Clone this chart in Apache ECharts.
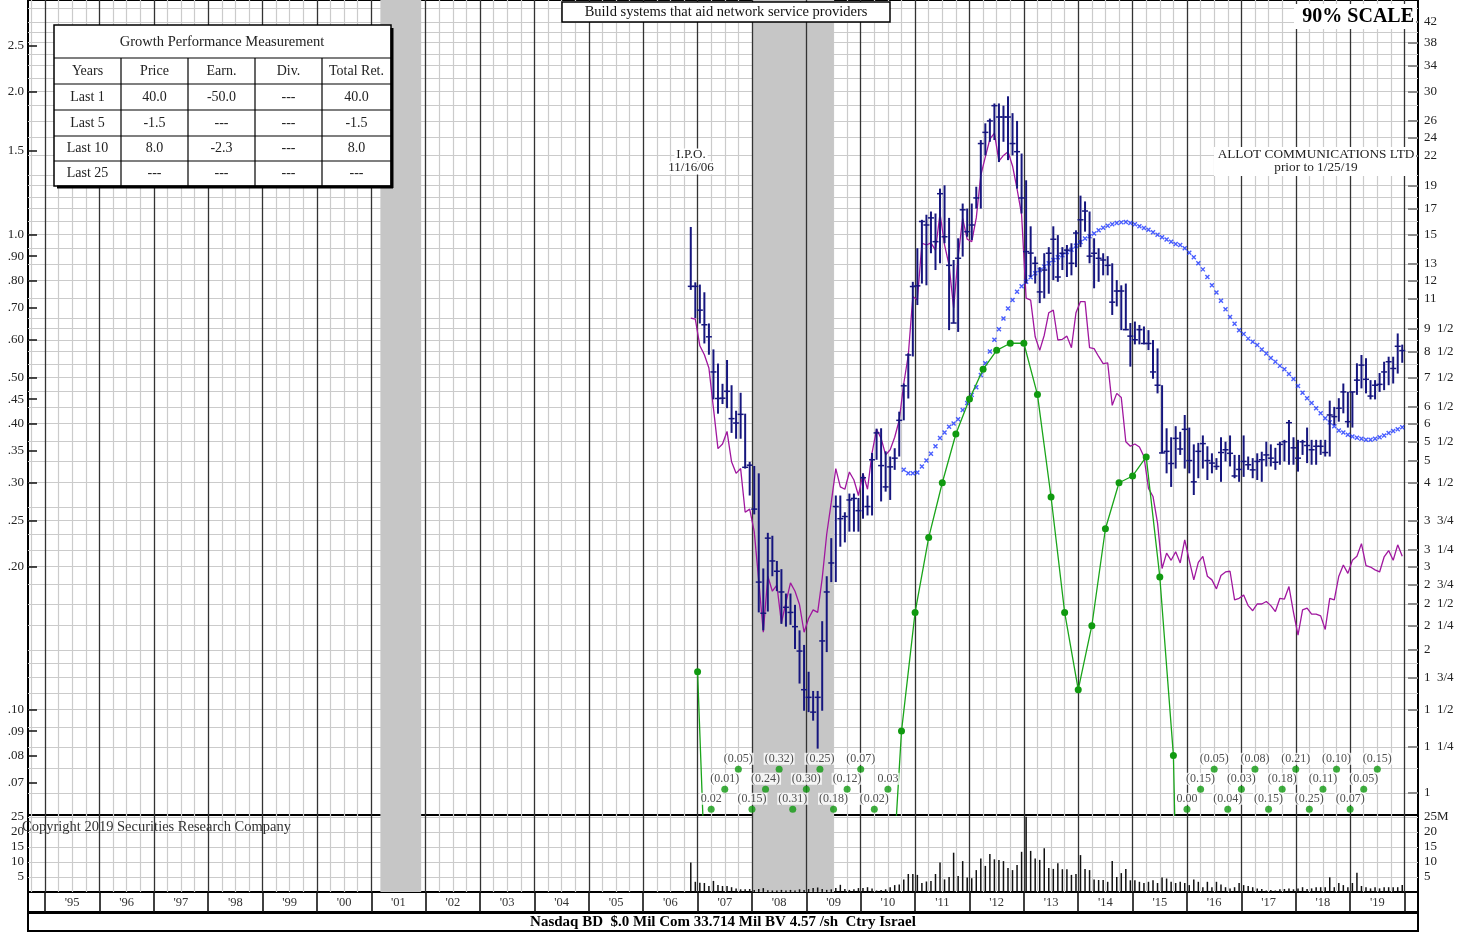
<!DOCTYPE html>
<html><head><meta charset="utf-8">
<script src="https://cdn.jsdelivr.net/npm/echarts@6/dist/echarts.min.js"></script>
<style>html,body{margin:0;padding:0;background:#fff}#c{width:1468px;height:934px}</style>
</head><body><div id="c"></div>
<script>
// ------------------------- DATA -------------------------
const firstMonth = [2006, 11]; // first monthly bar: Nov 2006 (IPO 11/16/06)
const priceHigh = [
 15.55,11.89,11.76,11.33,9.74,8.59,8.02,7.27,8.16,7.22,6.38,6.96,6.29,4.98,4.88,4.71,2.97,3.53,3.48,3.08,
 2.96,2.63,2.63,2.49,2.20,2.05,1.80,1.64,1.64,2.30,2.86,3.44,4.23,4.23,3.90,4.27,4.27,4.18,4.71,4.23,5.20,5.85,
 5.86,5.24,5.11,5.32,6.35,7.28,8.43,11.92,14.03,16.1,16.5,16.76,16.6,18.73,19.03,16.25,13.25,14.72,17.42,17.0,
 17.42,18.9,23.7,25.7,26.3,28.3,28.3,28.0,29.3,27.0,26.0,22.2,19.5,15.6,13.47,12.8,13.69,14.1,15.6,14.95,
 14.1,14.25,14.37,15.3,18.1,17.6,16.76,14.72,14.03,13.69,13.5,13.04,12.02,11.72,11.82,9.76,9.83,9.67,9.6,9.43,
 8.99,8.63,7.22,5.86,5.61,5.92,
 5.76,6.25,5.88,5.42,5.46,5.66,5.37,5.19,5.07,5.61,5.49,5.66,5.15,5.15,5.66,5.11,5.07,5.19,5.23,5.49,
 5.42,5.33,5.49,5.54,6.10,5.61,5.54,5.54,5.88,5.54,5.54,5.54,5.54,6.70,6.50,6.78,7.28,6.99,6.99,8.03,
 8.36,8.23,7.40,7.40,7.66,8.09,8.29,8.29,9.28,8.79];
const priceLow = [
 11.46,10.0,9.74,8.84,8.37,6.74,6.29,6.59,6.46,5.73,5.57,5.57,4.82,4.23,3.86,2.40,2.20,2.41,2.86,2.66,
 2.27,2.24,2.26,2.01,1.70,1.49,1.48,1.42,1.24,1.49,1.98,2.78,2.78,3.30,3.37,3.55,3.55,3.55,3.78,3.84,3.84,5.03,
 4.11,4.31,4.14,4.79,5.11,6.09,6.77,8.30,10.65,11.82,11.72,13.69,12.62,13.04,14.37,9.43,9.76,9.35,13.47,14.83,
 14.6,17.0,17.0,22.0,23.5,23.7,21.3,23.5,21.5,22.0,18.73,16.6,11.82,12.2,11.82,10.75,11.0,11.25,12.02,11.92,
 12.62,12.2,12.3,12.8,14.1,15.2,13.04,11.55,11.92,12.3,12.3,10.15,10.58,9.43,9.43,7.9,8.8,8.8,8.8,8.56,
 7.45,6.94,5.19,4.71,4.41,4.82,
 5.15,4.82,4.71,4.24,4.60,4.82,4.56,4.71,4.79,4.52,4.99,4.87,4.60,4.52,4.63,4.79,4.60,4.56,4.52,4.87,
 4.87,4.79,4.91,4.99,4.91,4.91,4.75,5.15,4.95,4.91,4.91,5.15,5.11,5.11,5.95,6.05,6.30,5.88,5.88,6.89,
 7.11,6.94,6.74,6.74,6.99,7.05,7.22,7.28,7.64,8.05];
const priceClose = [
 11.66,11.66,10.39,9.68,9.13,7.70,6.77,6.78,7.01,6.14,6.01,6.27,4.85,4.90,3.96,2.78,2.39,3.44,3.08,2.93,
 2.65,2.46,2.40,2.24,1.99,1.65,1.59,1.48,1.59,2.09,2.65,3.05,4.01,3.78,3.82,4.14,4.17,3.93,4.61,4.01,5.03,5.73,
 4.89,4.41,4.86,5.07,6.09,7.2,8.36,11.65,11.69,15.97,15.7,16.25,14.48,18.27,14.83,12.91,9.76,13.36,16.9,15.2,
 15.7,17.9,23.3,24.6,26.0,28.0,26.5,26.5,26.5,23.3,22.4,17.9,13.8,13.7,13.04,11.35,12.62,13.69,14.65,12.2,
 13.69,13.9,13.04,15.1,16.1,16.8,13.5,13.69,13.36,13.25,12.91,10.8,11.4,11.4,9.45,9.16,9.0,9.45,8.84,8.84,
 7.70,7.22,5.20,5.24,4.94,5.58,
 5.30,5.83,5.01,4.52,5.24,5.44,5.01,4.95,4.87,5.21,5.28,5.19,4.65,4.80,4.99,4.91,4.79,4.99,5.03,5.15,
 5.07,4.97,5.42,5.49,6.02,5.33,5.07,5.49,5.39,5.28,5.37,5.37,5.21,6.25,6.20,6.46,6.99,6.05,6.99,7.40,
 7.96,7.43,6.85,7.22,7.25,7.70,8.09,7.83,8.72,8.54];
const relStrength = [
 10.0,9.95,8.74,8.37,7.85,6.46,5.31,5.43,5.77,4.98,4.71,4.82,3.90,3.96,3.55,2.80,2.18,2.86,2.66,2.74,
 2.28,2.52,2.77,2.66,2.49,2.18,2.33,2.43,2.40,2.83,3.51,4.09,4.82,4.41,4.36,4.74,4.56,4.23,4.71,4.36,5.20,5.83,
 5.58,5.15,5.28,5.61,6.10,7.28,8.36,11.10,10.91,14.37,14.25,14.40,13.90,16.60,14.25,12.91,10.50,13.47,16.22,14.65,
 14.48,16.25,19.98,21.85,23.8,24.5,21.4,22.0,22.4,20.9,18.7,16.5,11.01,10.91,9.13,8.55,9.20,10.26,10.39,8.99,
 9.02,9.16,8.66,10.26,10.83,10.83,8.66,8.62,8.30,8.02,8.05,6.55,6.94,6.80,5.49,5.37,5.43,5.35,5.11,4.38,
 4.21,3.70,2.97,3.20,3.09,3.22,
 3.05,3.41,3.09,2.81,3.06,3.15,2.86,2.81,2.69,2.87,2.92,2.93,2.55,2.57,2.61,2.48,2.42,2.50,2.50,2.53,
 2.48,2.41,2.57,2.56,2.72,2.40,2.15,2.43,2.45,2.38,2.38,2.36,2.21,2.57,2.55,2.86,3.02,2.90,3.09,3.15,
 3.35,3.01,2.99,2.95,2.92,3.14,3.24,3.09,3.33,3.15];
const volumeM = [
 9.8,3.4,
 3.1,3.0,2.0,3.7,2.3,2.0,2.0,1.6,1.2,0.9,0.9,1.0,
 0.7,1.0,1.3,0.6,0.5,0.5,0.7,0.5,0.7,0.5,0.9,0.7,
 1.0,1.3,1.5,1.0,0.7,0.9,1.3,2.4,1.0,0.7,0.9,1.3,
 1.3,1.6,1.2,0.5,0.7,0.9,1.6,2.3,2.5,4.2,6.0,6.0,
 5.7,3.0,3.5,3.7,6.0,9.8,4.2,5.0,13.1,5.3,10.3,4.8,
 4.6,7.3,11.2,8.7,12.7,10.9,10.7,10.3,8.0,7.3,9.0,13.4,
 25.1,13.7,11.2,10.7,14.6,8.0,7.7,9.6,7.6,7.6,5.7,6.0,
 12.3,7.7,7.3,4.2,4.0,4.0,3.4,10.3,5.0,6.3,7.7,3.9,
 3.9,3.4,3.0,3.4,3.9,3.0,4.8,4.5,3.4,3.0,3.4,3.0,
 2.3,4.2,3.4,1.6,3.4,1.6,3.4,2.5,1.6,1.2,1.6,3.0,
 2.3,2.0,1.6,1.2,1.0,0.5,0.7,0.5,0.9,1.0,1.2,0.9,
 1.2,1.6,1.0,1.2,1.6,1.6,1.6,4.9,1.6,3.0,2.3,1.6,
 3.0,6.4,2.0,1.6,1.2,1.6,1.2,1.6,1.6,1.6,1.6,2.3];
const maStart = [2010, 10];
const movingAvg = [
 4.79,4.71,4.71,4.73,4.87,5.01,5.18,5.37,5.59,5.74,5.90,6.00,6.12,6.40,6.62,6.89,7.15,7.59,8.03,8.50,
 9.0,9.47,9.98,10.47,10.91,11.36,11.67,11.92,12.18,12.43,12.62,12.83,13.04,13.25,13.42,13.55,13.77,13.93,14.2,14.46,
 14.70,14.86,15.06,15.3,15.5,15.65,15.75,15.85,15.9,15.92,15.85,15.75,15.6,15.47,15.34,15.16,14.98,14.8,14.63,14.48,14.32,
 14.25,14.03,13.72,13.42,13.04,12.66,12.2,11.72,11.32,10.87,10.43,10.05,9.73,9.43,9.25,9.05,8.91,8.77,8.59,8.42,
 8.24,8.09,7.93,7.80,7.62,7.44,7.19,6.96,6.78,6.62,6.46,6.30,6.15,6.03,5.92,5.80,5.74,5.68,5.63,5.60,
 5.57,5.54,5.54,5.57,5.61,5.66,5.73,5.78,5.83,5.89];
const epsStart = 2007.0; // first quarter end (Dec 2006)
const eps12m = [
 0.12,0.02,-0.01,-0.05,-0.15,-0.24,-0.32,-0.31,-0.30,-0.25,-0.18,-0.12,-0.07,-0.02,0.03,0.09,
 0.16,0.23,0.30,0.38,0.45,0.52,0.57,0.59,0.59,0.46,0.28,0.16,0.11,0.15,0.24,0.30,0.31,0.34,0.19,0.08,
 0.004,-0.15,-0.05,-0.04,-0.03,-0.08,-0.15,-0.18,-0.21,-0.25,-0.11,-0.10,-0.07,-0.05,-0.15];
const rightTickValues = [42,38,34,30,26,24,22,19,17,15,13,12,11,9.5,8.5,7.5,6.5,6,5.5,5,4.5,3.75,3.25,3,2.75,2.5,2.25,2,1.75,1.5,1.25,1];
const rightTickLabels = ['42','38','34','30','26','24','22','19','17','15','13','12','11','9  1/2','8  1/2','7  1/2','6  1/2','6','5  1/2','5','4  1/2','3  3/4','3  1/4','3','2  3/4','2  1/2','2  1/4','2','1  3/4','1  1/2','1  1/4','1'];
const leftTickValues = [2.5,2.0,1.5,1.0,0.9,0.8,0.7,0.6,0.5,0.45,0.4,0.35,0.3,0.25,0.2,0.1,0.09,0.08,0.07];
const leftTickLabels = ['2.5','2.0','1.5','1.0','.90','.80','.70','.60','.50','.45','.40','.35','.30','.25','.20','.10','.09','.08','.07'];
const priceGridValues = [1,1.125,1.25,1.375,1.5,1.625,1.75,1.875,2,2.25,2.5,2.75,3,3.25,3.5,3.75,4,4.5,5,5.5,6,6.5,7,7.5,8,8.5,9,9.5,10,11,12,13,14,15,16,17,18,19,20,22,24,26,28,30,32,34,36,38,40,42,45];
const volTickValues = [5,10,15,20,25];
const volRightLabels = ['5','10','15','20','25M'];
const volLeftLabels = ['5','10','15','20','25'];
const years = [1995,1996,1997,1998,1999,2000,2001,2002,2003,2004,2005,2006,2007,2008,2009,2010,2011,2012,2013,2014,2015,2016,2017,2018,2019];
const yearLabels = ["'95","'96","'97","'98","'99","'00","'01","'02","'03","'04","'05","'06","'07","'08","'09","'10","'11","'12","'13","'14","'15","'16","'17","'18","'19"];
const recessions = [[2001.167, 2001.917], [2008.0, 2009.5]];
const tableTitle = 'Growth Performance Measurement';
const tableHeaders = ['Years','Price','Earn.','Div.','Total Ret.'];
const tableRows = [
 ['Last 1','40.0','-50.0','---','40.0'],
 ['Last 5','-1.5','---','---','-1.5'],
 ['Last 10','8.0','-2.3','---','8.0'],
 ['Last 25','---','---','---','---']];

// ------------------------- LAYOUT -------------------------
const SERIF = '"Liberation Serif","Times New Roman",serif';
const XMIN = 1994.687, XMAX = 2020.248;
const PMIN = 0.8988, PMAX = 46.73;
const EPS_RATIO = 15;
const EMIN = PMIN / EPS_RATIO, EMAX = PMAX / EPS_RATIO;
const VMAX = 25.667;
const GRID_C = '#cbcbcb';

function monthX(i, start) { const m = start[0] * 12 + (start[1] - 1) + i; return Math.floor(m / 12) + ((m % 12) + 0.5) / 12; }
function lookup(vals, labs, v) { let b = 0, d = Infinity; vals.forEach((t, i) => { const dd = Math.abs(Math.log(t / v)); if (dd < d) { d = dd; b = i; } }); return labs[b]; }
function fmtEps(v) { return v < 0 ? '(' + Math.abs(v).toFixed(2) + ')' : v.toFixed(2); }

const quarterVals = [];
for (let k = 1994 * 4 + 3; k <= 2020 * 4; k++) if (k % 4) quarterVals.push(k / 4);
const yearLines = years.concat([2020]);
const yearMid = years.map(y => y + 0.5);

const barData = priceHigh.map((h, i) => [monthX(i, firstMonth), h, priceLow[i], priceClose[i]]);
const rsData = relStrength.map((v, i) => [monthX(i, firstMonth), v]);
const volData = volumeM.map((v, i) => [monthX(i, firstMonth), v]);
const maData = movingAvg.map((v, i) => [monthX(i, maStart), v]);
const epsLine = eps12m.map((v, i) => [epsStart + 0.25 * i, v > 0 ? v : null]);
const offData = [];
{ let run = 0, prev = false;
  eps12m.forEach((v, i) => { const off = v < EMIN; if (off) { run = prev ? run + 1 : 0; offData.push({ value: [epsStart + 0.25 * i, run % 3], txt: fmtEps(v) }); } prev = off; }); }

function xAx(gi, ticks, color, width, z, extra) {
  return Object.assign({ type: 'value', gridIndex: gi, min: XMIN, max: XMAX, z: z,
    axisLine: { show: false }, axisTick: { show: false, customValues: ticks }, axisLabel: { show: false },
    splitLine: { show: true, lineStyle: { color: color, width: width } } }, extra || {});
}
const lbl = { fontFamily: SERIF, fontSize: 13, color: '#222' };

// ------------------------- GRAPHICS (text annotations) -------------------------
const G = [];
function txt(x, y, text, o) { G.push({ type: 'text', x: x, y: y, z: 100, style: Object.assign({ text: text, font: '12px ' + SERIF, fill: '#222', align: 'center', verticalAlign: 'middle', textAlign: 'center', textVerticalAlign: 'middle' }, o || {}) }); }
function rect(x, y, w, h, o) { G.push({ type: 'rect', z: 99, shape: { x: x, y: y, width: w, height: h }, style: Object.assign({ fill: '#fff', stroke: '#000', lineWidth: 1 }, o || {}) }); }
function ln(x1, y1, x2, y2, w, c) { G.push({ type: 'line', z: 100, shape: { x1: x1, y1: y1, x2: x2, y2: y2 }, style: { stroke: c || '#000', lineWidth: w } }); }

rect(562, 2, 328, 20, { lineWidth: 1.5 });
txt(726, 12.5, 'Build systems that aid network service providers', { font: '14.5px ' + SERIF, fill: '#111' });
rect(1294, 4, 122, 25, { stroke: null });
txt(1414, 17, '90% SCALE', { font: 'bold 20px ' + SERIF, fill: '#000', align: 'right', textAlign: 'right' });
txt(691, 155, 'I.P.O.', { font: '13px ' + SERIF, backgroundColor: '#fff', padding: [0, 2] });
txt(691, 168, '11/16/06', { font: '13px ' + SERIF, backgroundColor: '#fff', padding: [0, 2] });
rect(1214, 147, 202, 29, { stroke: null });
txt(1316, 155, 'ALLOT COMMUNICATIONS LTD', { font: '13.3px ' + SERIF });
txt(1316, 168, 'prior to 1/25/19', { font: '13.3px ' + SERIF });
txt(22, 827, 'Copyright 2019 Securities Research Company', { font: '14.5px ' + SERIF, fill: '#333', align: 'left', textAlign: 'left' });
rect(28, 913, 1390, 18, { lineWidth: 2 });
txt(723, 922, 'Nasdaq BD  $.0 Mil Com 33.714 Mil BV 4.57 /sh  Ctry Israel', { font: 'bold 15px ' + SERIF, fill: '#000' });
// table
const colX = [54, 121, 188, 255, 322, 391];
const rowY = [25, 58, 84, 110, 136, 161, 186];
rect(54, 25, 337, 161, { lineWidth: 1.5 });
ln(392, 28, 392, 188, 3); ln(57, 187, 393, 187, 3);
for (let r = 1; r < rowY.length - 1; r++) ln(54, rowY[r], 391, rowY[r], 1.2);
for (let c = 1; c < colX.length - 1; c++) ln(colX[c], rowY[1], colX[c], rowY[6], 1.2);
txt(222, 42, tableTitle, { font: '14.5px ' + SERIF });
tableHeaders.forEach((h, c) => txt((colX[c] + colX[c + 1]) / 2, (rowY[1] + rowY[2]) / 2, h, { font: '14px ' + SERIF }));
tableRows.forEach((row, r) => row.forEach((s, c) => txt((colX[c] + colX[c + 1]) / 2, (rowY[r + 2] + rowY[r + 3]) / 2, s, { font: '14px ' + SERIF })));

// ------------------------- OPTION -------------------------
const navy = '#16167e';
const option = {
  animation: false,
  textStyle: { fontFamily: SERIF },
  grid: [
    { left: 28, right: 50, top: 0, height: 815, show: true, borderColor: '#000', borderWidth: 2 },
    { left: 28, right: 50, top: 815, height: 77, show: true, borderColor: '#000', borderWidth: 2 },
    { left: 28, right: 50, top: 892, height: 20, show: true, borderColor: '#000', borderWidth: 2 }
  ],
  xAxis: [
    xAx(0, quarterVals, GRID_C, 1.2, 0),
    xAx(0, yearLines, '#333', 1.3, 1.5),
    xAx(1, quarterVals, GRID_C, 1.2, 0),
    xAx(1, yearLines, '#333', 1.3, 1.5),
    xAx(2, yearLines, '#111', 1.6, 1.5, { position: 'top',
      axisLabel: { show: true, inside: true, margin: 4, customValues: yearMid, formatter: v => yearLabels[Math.floor(v) - 1995], fontFamily: SERIF, fontSize: 12.5, color: '#333' } })
  ],
  yAxis: [
    { type: 'log', gridIndex: 0, position: 'right', min: PMIN, max: PMAX, logBase: 10,
      axisLine: { show: false },
      axisTick: { show: true, inside: true, length: 10, customValues: rightTickValues, lineStyle: { color: '#8a8a8a', width: 2 } },
      axisLabel: Object.assign({ show: true, margin: 6, customValues: rightTickValues, formatter: v => lookup(rightTickValues, rightTickLabels, v) }, lbl),
      splitLine: { show: false } },
    { type: 'log', gridIndex: 0, position: 'left', min: EMIN, max: EMAX, logBase: 10,
      axisLine: { show: false },
      axisTick: { show: true, inside: true, length: 9, customValues: leftTickValues, lineStyle: { color: '#111', width: 1.5 } },
      axisLabel: Object.assign({ show: true, margin: 4, customValues: leftTickValues, formatter: v => lookup(leftTickValues, leftTickLabels, v) }, lbl),
      splitLine: { show: false } },
    { type: 'log', gridIndex: 0, position: 'right', min: PMIN, max: PMAX, logBase: 10,
      axisLine: { show: false }, axisTick: { show: false, customValues: priceGridValues }, axisLabel: { show: false },
      splitLine: { show: true, lineStyle: { color: GRID_C, width: 1.2 } } },
    { type: 'value', gridIndex: 0, min: -0.285, max: 40.465, show: false },
    { type: 'value', gridIndex: 1, position: 'right', min: 0, max: VMAX,
      axisLine: { show: false }, axisTick: { show: false, customValues: volTickValues },
      axisLabel: Object.assign({ show: true, margin: 6, customValues: volTickValues, formatter: v => volRightLabels[volTickValues.indexOf(v)] }, lbl),
      splitLine: { show: true, lineStyle: { color: GRID_C, width: 1.2 } } },
    { type: 'value', gridIndex: 1, position: 'left', min: 0, max: VMAX,
      axisLine: { show: false }, axisTick: { show: false, customValues: volTickValues },
      axisLabel: Object.assign({ show: true, margin: 4, customValues: volTickValues, formatter: v => volLeftLabels[volTickValues.indexOf(v)] }, lbl),
      splitLine: { show: false } },
    { type: 'value', gridIndex: 2, show: false, min: 0, max: 1 }
  ],
  graphic: { elements: G },
  series: [
    { type: 'line', xAxisIndex: 0, yAxisIndex: 2, data: [[XMIN, 1]], showSymbol: false, lineStyle: { opacity: 0 }, silent: true, z: 1,
      markArea: { silent: true, itemStyle: { color: '#c6c6c6' }, data: recessions.map(r => [{ xAxis: r[0] }, { xAxis: r[1] }]) } },
    { type: 'line', xAxisIndex: 2, yAxisIndex: 4, data: [[XMIN, 0]], showSymbol: false, lineStyle: { opacity: 0 }, silent: true, z: 1,
      markArea: { silent: true, itemStyle: { color: '#c6c6c6' }, data: recessions.map(r => [{ xAxis: r[0] }, { xAxis: r[1] }]) } },
    { type: 'line', name: 'RS', xAxisIndex: 0, yAxisIndex: 0, data: rsData, showSymbol: false, z: 3,
      lineStyle: { color: '#a0179f', width: 1.3 } },
    { type: 'scatter', name: 'MA', xAxisIndex: 0, yAxisIndex: 0, data: maData, z: 3,
      symbol: 'path://M0,0L10,10M10,0L0,10', symbolSize: 4,
      itemStyle: { color: 'rgba(0,0,0,0)', borderColor: '#1b36ff', borderWidth: 1.4 } },
    { type: 'custom', name: 'Price', xAxisIndex: 0, yAxisIndex: 0, data: barData, z: 4,
      encode: { x: 0, y: [1, 2, 3] },
      renderItem: function (params, api) {
        const x = api.value(0);
        const a = api.coord([x, api.value(1)]), b = api.coord([x, api.value(2)]), c = api.coord([x, api.value(3)]);
        return { type: 'group', children: [
          { type: 'line', shape: { x1: a[0], y1: a[1], x2: b[0], y2: b[1] }, style: { stroke: navy, lineWidth: 2 } },
          { type: 'line', shape: { x1: c[0] - 3, y1: c[1], x2: c[0] + 3, y2: c[1] }, style: { stroke: navy, lineWidth: 1.5 } }
        ] };
      } },
    { type: 'line', name: 'EPS', xAxisIndex: 0, yAxisIndex: 1, data: epsLine, z: 5, connectNulls: false,
      symbol: 'circle', symbolSize: 7, showAllSymbol: true,
      itemStyle: { color: '#109a10' }, lineStyle: { color: '#1aa51a', width: 1.3 } },
    { type: 'scatter', name: 'EPS below scale', xAxisIndex: 0, yAxisIndex: 3, data: offData, z: 6,
      symbol: 'circle', symbolSize: 7, itemStyle: { color: '#109a10' },
      label: { show: true, position: 'top', distance: 1, formatter: p => p.data.txt,
        fontFamily: SERIF, fontSize: 12, color: '#222', backgroundColor: '#fff', padding: [0, 1] } },
    { type: 'custom', name: 'Volume', xAxisIndex: 2, yAxisIndex: 4, data: volData, z: 4,
      encode: { x: 0, y: 1 },
      renderItem: function (params, api) {
        const x = api.value(0);
        const a = api.coord([x, 0]), b = api.coord([x, api.value(1)]);
        return { type: 'line', shape: { x1: a[0], y1: a[1], x2: b[0], y2: b[1] }, style: { stroke: '#111', lineWidth: 1.5 } };
      } }
  ]
};
const chart = echarts.init(document.getElementById('c'), null, { renderer: 'canvas', width: 1468, height: 934 });
chart.setOption(option);
</script>
</body></html>
